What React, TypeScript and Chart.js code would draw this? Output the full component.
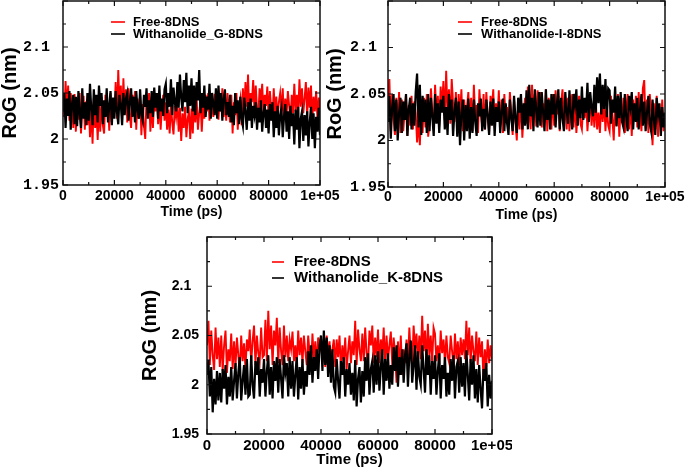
import { useEffect, useRef } from "react"
import { Chart, registerables } from "chart.js"

Chart.register(...registerables)

const SANS = "'Liberation Sans', Arial, sans-serif"
const MONO = "'Liberation Mono', 'Courier New', monospace"

// one sample every 500 ps, 0 .. 100000 ps (201 samples per series)
const TIME_STEP_PS = 500

const X_MAJOR = [0, 20000, 40000, 60000, 80000, 100000]
const X_MINOR = [10000, 30000, 50000, 70000, 90000]
const X_TICK_LABELS = ["0", "20000", "40000", "60000", "80000", "1e+05"]
const Y_MAJOR = [1.95, 2, 2.05, 2.1, 2.15]
const Y_MINOR = [1.975, 2.025, 2.075, 2.125]
const Y_TICK_LABELS = ["1.95", "2", "2.05", "2.1", ""]

// RoG (nm), Free-8DNS vs Withanolide_G-8DNS
const FREE_G = [
  2.045, 2.024, 2.063, 2.031, 2.058, 2.020, 2.050, 2.038, 2.012, 2.049,
  2.008, 2.044, 2.021, 2.050, 2.006, 2.036, 2.047, 2.010, 2.041, 2.015,
  2.040, 2.002, 2.033, 1.995, 2.044, 2.012, 2.030, 1.999, 2.038, 2.008,
  2.046, 2.015, 2.006, 2.048, 2.024, 2.039, 2.009, 2.050, 2.018, 2.043,
  2.028, 2.062, 2.022, 2.075, 2.035, 2.058, 2.020, 2.066, 2.030, 2.054,
  2.018, 2.055, 2.025, 2.012, 2.048, 2.030, 2.052, 2.010, 2.044, 2.022,
  2.049, 2.004, 2.038, 2.015, 2.000, 2.045, 2.026, 2.050, 2.008, 2.040,
  2.012, 2.046, 2.030, 2.050, 2.016, 2.042, 2.010, 2.035, 2.048, 2.020,
  2.040, 2.010, 2.032, 2.006, 2.038, 2.018, 2.005, 2.036, 2.024, 2.040,
  2.008, 2.034, 1.998, 2.028, 2.012, 2.035, 2.002, 2.022, 2.030, 2.000,
  2.033, 2.006, 2.040, 2.018, 2.045, 2.010, 2.028, 2.042, 2.008, 2.036,
  2.022, 2.048, 2.030, 2.050, 2.020, 2.044, 2.036, 2.024, 2.049, 2.028,
  2.052, 2.021, 2.045, 2.030, 2.055, 2.024, 2.040, 2.020, 2.050, 2.034,
  2.018, 2.048, 2.006, 2.040, 2.026, 2.050, 2.010, 2.035, 2.044, 2.015,
  2.055, 2.028, 2.062, 2.035, 2.070, 2.026, 2.050, 2.040, 2.064, 2.030,
  2.058, 2.032, 2.026, 2.055, 2.040, 2.060, 2.028, 2.048, 2.036, 2.057,
  2.024, 2.052, 2.034, 2.020, 2.055, 2.028, 2.046, 2.022, 2.040, 2.050,
  2.030, 2.055, 2.021, 2.044, 2.026, 2.052, 2.036, 2.020, 2.048, 2.028,
  2.060, 2.030, 2.048, 2.026, 2.065, 2.035, 2.055, 2.028, 2.044, 2.062,
  2.024, 2.056, 2.034, 2.058, 2.020, 2.046, 2.030, 2.052, 2.022, 2.045,
  2.032,
]
const WITH_G = [
  2.030, 2.050, 2.012, 2.044, 2.025, 2.052, 2.010, 2.038, 2.048, 2.016,
  2.046, 2.014, 2.052, 2.028, 2.012, 2.055, 2.022, 2.040, 2.015, 2.050,
  2.020, 2.060, 2.032, 2.015, 2.054, 2.026, 2.048, 2.018, 2.058, 2.036,
  2.050, 2.016, 2.042, 2.024, 2.055, 2.018, 2.036, 2.052, 2.015, 2.045,
  2.022, 2.052, 2.030, 2.016, 2.048, 2.038, 2.015, 2.050, 2.026, 2.044,
  2.050, 2.020, 2.040, 2.055, 2.024, 2.046, 2.018, 2.052, 2.032, 2.022,
  2.054, 2.026, 2.020, 2.048, 2.035, 2.055, 2.022, 2.042, 2.028, 2.052,
  2.024, 2.056, 2.034, 2.050, 2.022, 2.058, 2.030, 2.044, 2.025, 2.054,
  2.060, 2.028, 2.050, 2.035, 2.065, 2.026, 2.056, 2.040, 2.030, 2.062,
  2.034, 2.070, 2.045, 2.030, 2.064, 2.040, 2.072, 2.028, 2.058, 2.036,
  2.066, 2.030, 2.058, 2.026, 2.062, 2.042, 2.075, 2.028, 2.050, 2.034,
  2.058, 2.024, 2.046, 2.032, 2.060, 2.022, 2.050, 2.038, 2.026, 2.055,
  2.022, 2.058, 2.030, 2.050, 2.020, 2.044, 2.054, 2.026, 2.040, 2.024,
  2.048, 2.018, 2.036, 2.015, 2.050, 2.028, 2.042, 2.016, 2.046, 2.022,
  2.014, 2.045, 2.030, 2.010, 2.040, 2.020, 2.044, 2.012, 2.036, 2.026,
  2.040, 2.010, 2.034, 2.018, 2.042, 2.008, 2.028, 2.038, 2.012, 2.032,
  2.006, 2.038, 2.020, 2.040, 2.002, 2.030, 2.012, 2.036, 2.004, 2.026,
  2.034, 2.002, 2.024, 2.038, 2.008, 2.030, 2.000, 2.036, 2.014, 2.028,
  1.994, 2.032, 2.010, 2.035, 1.990, 2.022, 2.030, 1.998, 2.026, 2.004,
  2.030, 1.992, 2.018, 2.035, 2.000, 2.028, 1.990, 2.024, 2.008, 2.034,
  2.004,
]

// RoG (nm), Free-8DNS vs Withanolide-I-8DNS
const FREE_I = [
  2.040, 2.066, 2.010, 2.050, 2.024, 2.006, 2.046, 2.018, 2.052, 2.008,
  2.044, 2.010, 2.030, 2.050, 2.005, 2.038, 2.016, 2.048, 2.012, 2.042,
  2.030, 1.998, 2.022, 1.995, 2.034, 2.008, 2.046, 2.014, 2.050, 2.004,
  2.020, 2.056, 2.030, 2.012, 2.060, 2.026, 2.048, 2.015, 2.058, 2.036,
  2.064, 2.022, 2.075, 2.030, 2.055, 2.018, 2.066, 2.040, 2.020, 2.052,
  2.012, 2.050, 2.028, 2.055, 2.010, 2.044, 2.022, 2.036, 2.052, 2.014,
  2.046, 2.010, 2.060, 2.024, 2.038, 2.008, 2.055, 2.030, 2.016, 2.050,
  2.012, 2.052, 2.026, 2.008, 2.048, 2.034, 2.055, 2.014, 2.040, 2.020,
  2.054, 2.016, 2.044, 2.008, 2.050, 2.022, 2.036, 2.012, 2.052, 2.030,
  2.006, 2.044, 2.020, 2.000, 2.040, 2.012, 2.048, 2.003, 2.030, 2.046,
  2.018, 2.058, 2.032, 2.012, 2.060, 2.026, 2.050, 2.015, 2.054, 2.038,
  2.052, 2.014, 2.040, 2.024, 2.055, 2.010, 2.046, 2.030, 2.012, 2.050,
  2.016, 2.054, 2.028, 2.048, 2.010, 2.040, 2.055, 2.020, 2.036, 2.012,
  2.046, 2.010, 2.034, 2.050, 2.014, 2.042, 2.008, 2.030, 2.048, 2.018,
  2.012, 2.040, 2.024, 2.045, 2.010, 2.032, 2.044, 2.016, 2.038, 2.014,
  2.044, 2.012, 2.030, 2.008, 2.042, 2.020, 2.045, 2.010, 2.036, 2.016,
  2.010, 2.048, 2.024, 2.000, 2.044, 2.016, 2.050, 2.004, 2.036, 2.020,
  2.046, 2.008, 2.032, 2.050, 2.012, 2.040, 2.005, 2.044, 2.022, 2.048,
  2.014, 2.052, 2.026, 2.010, 2.056, 2.065, 2.018, 2.044, 2.008, 2.050,
  2.032, 1.995, 2.040, 2.012, 2.048, 2.004, 2.036, 2.016, 2.044, 2.010,
  2.025,
]
const WITH_I = [
  2.020, 2.048, 2.002, 2.036, 2.050, 2.010, 2.044, 2.000, 2.030, 2.046,
  2.008, 2.042, 2.022, 2.050, 2.005, 2.034, 2.046, 2.012, 2.040, 2.016,
  2.052, 2.072, 2.014, 2.060, 2.006, 2.048, 2.020, 2.044, 2.008, 2.050,
  2.010, 2.046, 2.026, 2.005, 2.050, 2.018, 2.040, 2.008, 2.044, 2.030,
  2.048, 2.012, 2.036, 2.006, 2.050, 2.022, 2.044, 2.005, 2.032, 2.046,
  2.004, 2.042, 1.995, 2.030, 2.044, 2.000, 2.038, 2.010, 2.045, 2.002,
  2.036, 2.008, 2.044, 2.020, 2.005, 2.040, 2.026, 2.045, 2.010, 2.034,
  2.012, 2.044, 2.028, 2.006, 2.042, 2.016, 2.045, 2.005, 2.036, 2.020,
  2.042, 2.008, 2.032, 2.045, 2.010, 2.040, 2.018, 2.006, 2.044, 2.024,
  2.010, 2.048, 2.024, 2.008, 2.046, 2.030, 2.050, 2.012, 2.040, 2.016,
  2.054, 2.012, 2.060, 2.026, 2.046, 2.010, 2.055, 2.034, 2.014, 2.052,
  2.016, 2.052, 2.030, 2.010, 2.055, 2.022, 2.044, 2.012, 2.050, 2.028,
  2.050, 2.014, 2.040, 2.055, 2.012, 2.046, 2.024, 2.010, 2.052, 2.032,
  2.018, 2.054, 2.030, 2.012, 2.050, 2.038, 2.055, 2.016, 2.044, 2.024,
  2.058, 2.022, 2.046, 2.030, 2.062, 2.020, 2.052, 2.036, 2.026, 2.060,
  2.030, 2.068, 2.040, 2.072, 2.028, 2.060, 2.034, 2.066, 2.025, 2.056,
  2.054, 2.018, 2.044, 2.030, 2.058, 2.015, 2.048, 2.024, 2.052, 2.020,
  2.014, 2.050, 2.026, 2.010, 2.048, 2.036, 2.052, 2.012, 2.040, 2.020,
  2.046, 2.012, 2.034, 2.050, 2.016, 2.042, 2.010, 2.030, 2.048, 2.018,
  2.010, 2.044, 2.022, 2.006, 2.046, 2.028, 2.040, 2.005, 2.036, 2.014,
  2.030,
]

// RoG (nm), Free-8DNS vs Withanolide_K-8DNS
const FREE_K = [
  2.040, 2.065, 2.020, 2.055, 2.030, 2.015, 2.058, 2.026, 2.048, 2.018,
  2.050, 2.014, 2.040, 2.055, 2.012, 2.036, 2.024, 2.052, 2.016, 2.044,
  2.018, 2.048, 2.030, 2.015, 2.050, 2.024, 2.042, 2.016, 2.046, 2.034,
  2.056, 2.022, 2.044, 2.060, 2.020, 2.050, 2.032, 2.024, 2.058, 2.028,
  2.030, 2.066, 2.024, 2.075, 2.036, 2.060, 2.020, 2.055, 2.040, 2.068,
  2.022, 2.058, 2.034, 2.020, 2.060, 2.028, 2.050, 2.024, 2.046, 2.036,
  2.054, 2.024, 2.040, 2.020, 2.055, 2.030, 2.048, 2.022, 2.050, 2.034,
  2.020, 2.050, 2.032, 2.018, 2.052, 2.026, 2.044, 2.020, 2.048, 2.036,
  2.048, 2.022, 2.040, 2.018, 2.050, 2.030, 2.044, 2.020, 2.036, 2.046,
  2.018, 2.046, 2.028, 2.050, 2.015, 2.040, 2.024, 2.048, 2.016, 2.034,
  2.050, 2.022, 2.044, 2.030, 2.065, 2.020, 2.056, 2.036, 2.024, 2.052,
  2.024, 2.058, 2.032, 2.020, 2.055, 2.040, 2.060, 2.022, 2.048, 2.028,
  2.056, 2.022, 2.046, 2.030, 2.058, 2.020, 2.050, 2.026, 2.040, 2.054,
  2.020, 2.048, 2.030, 2.002, 2.044, 2.016, 2.050, 2.010, 2.036, 2.022,
  2.046, 2.022, 2.058, 2.030, 2.020, 2.060, 2.036, 2.052, 2.024, 2.050,
  2.026, 2.070, 2.034, 2.055, 2.020, 2.062, 2.030, 2.050, 2.022, 2.058,
  2.052, 2.024, 2.040, 2.020, 2.055, 2.032, 2.046, 2.022, 2.050, 2.028,
  2.022, 2.050, 2.034, 2.018, 2.052, 2.026, 2.044, 2.020, 2.048, 2.030,
  2.046, 2.026, 2.065, 2.030, 2.058, 2.022, 2.050, 2.034, 2.024, 2.054,
  2.020, 2.048, 2.028, 2.044, 2.005, 2.036, 2.018, 2.046, 2.022, 2.040,
  2.026,
]
const WITH_K = [
  2.010, 2.025, 1.988, 2.018, 1.972, 2.006, 1.980, 2.014, 1.984, 2.012,
  1.982, 2.016, 1.996, 2.020, 1.980, 2.008, 1.988, 2.018, 1.984, 2.004,
  2.022, 1.986, 2.012, 2.028, 1.984, 2.004, 2.020, 1.990, 2.026, 1.988,
  1.990, 2.030, 2.000, 1.986, 2.024, 2.010, 2.028, 1.988, 2.016, 2.002,
  2.026, 1.988, 2.014, 2.030, 1.990, 2.018, 1.986, 2.024, 2.004, 2.028,
  1.992, 2.026, 2.006, 1.986, 2.030, 2.012, 2.022, 1.988, 2.028, 1.996,
  2.024, 1.988, 2.010, 2.028, 1.985, 2.018, 1.996, 2.026, 1.990, 2.014,
  1.998, 2.034, 2.010, 2.040, 2.002, 2.028, 2.014, 2.036, 2.006, 2.040,
  2.050, 2.014, 2.055, 2.020, 2.048, 2.008, 2.040, 2.002, 2.036, 1.998,
  1.992, 2.026, 2.004, 1.986, 2.024, 2.010, 2.028, 1.988, 2.016, 2.000,
  2.022, 1.990, 2.012, 1.984, 2.025, 1.978, 2.006, 2.018, 1.982, 2.014,
  1.988, 2.028, 2.004, 2.032, 1.990, 2.016, 2.024, 1.992, 2.030, 2.000,
  2.034, 1.994, 2.018, 2.036, 1.990, 2.026, 2.004, 2.032, 1.996, 2.020,
  2.000, 2.038, 2.014, 2.040, 1.998, 2.028, 2.010, 2.036, 2.002, 2.030,
  2.042, 1.998, 2.030, 2.045, 2.002, 2.020, 2.040, 1.995, 2.034, 2.008,
  2.000, 2.040, 2.016, 1.992, 2.036, 2.010, 2.030, 1.990, 2.024, 2.006,
  2.030, 1.990, 2.014, 2.032, 1.986, 2.020, 2.006, 2.028, 1.988, 2.012,
  1.990, 2.026, 2.004, 2.030, 1.986, 2.018, 2.024, 1.992, 2.028, 1.998,
  2.022, 1.988, 2.035, 2.010, 1.984, 2.026, 2.000, 2.030, 1.986, 2.016,
  1.982, 2.020, 1.996, 1.976, 2.016, 2.004, 2.022, 1.978, 2.010, 1.986,
  2.004,
]

// boxed frame with inward ticks on all four sides
const framePlugin = {
  id: "frame",
  afterDatasetsDraw(chart: any) {
    const { ctx, chartArea: a, scales } = chart
    ctx.save()
    ctx.strokeStyle = "#111"
    ctx.lineWidth = 1.5
    ctx.strokeRect(a.left, a.top, a.right - a.left, a.bottom - a.top)
    ctx.lineWidth = 1.2
    ctx.beginPath()
    const xTick = (v: number, len: number) => {
      const px = scales.x.getPixelForValue(v)
      ctx.moveTo(px, a.bottom)
      ctx.lineTo(px, a.bottom - len)
      ctx.moveTo(px, a.top)
      ctx.lineTo(px, a.top + len)
    }
    const yTick = (v: number, len: number) => {
      const py = scales.y.getPixelForValue(v)
      ctx.moveTo(a.left, py)
      ctx.lineTo(a.left + len, py)
      ctx.moveTo(a.right, py)
      ctx.lineTo(a.right - len, py)
    }
    X_MAJOR.forEach((v) => xTick(v, 5))
    X_MINOR.forEach((v) => xTick(v, 3))
    Y_MAJOR.forEach((v) => yTick(v, 5))
    Y_MINOR.forEach((v) => yTick(v, 3))
    ctx.stroke()
    ctx.restore()
  },
}

// short coloured line + name, drawn inside the plot
const lineLegendPlugin = {
  id: "lineLegend",
  afterDraw(chart: any, _args: any, opts: any) {
    const { ctx, chartArea } = chart
    ctx.save()
    ctx.font = `bold ${opts.size}px ${SANS}`
    ctx.textBaseline = "middle"
    ctx.textAlign = "left"
    opts.items.forEach((item: any, i: number) => {
      const x = chartArea.left + opts.dx
      const y = chartArea.top + opts.dy + i * opts.gap
      ctx.strokeStyle = item.color
      ctx.lineWidth = 1.6
      ctx.beginPath()
      ctx.moveTo(x, y)
      ctx.lineTo(x + opts.lineLen, y)
      ctx.stroke()
      ctx.fillStyle = "#000"
      ctx.fillText(item.text, x + opts.textDx, y)
    })
    ctx.restore()
  },
}

type PanelProps = {
  free: number[]
  bound: number[]
  boundLabel: string
  box: { left: number; top: number; width: number; height: number }
  padTop: number
  padRight: number
  yWidth: number
  xHeight: number
  yTickFont: any
  yTickPad: number
  tenthPad: string
  xTickFont: any
  xTickPad: number
  xTitleSize: number
  xTitlePad: number
  legend: { dx: number; dy: number; gap: number; lineLen: number; textDx: number; size: number }
}

function RogPanel(p: PanelProps) {
  const chartRef = useRef<HTMLCanvasElement>(null)

  useEffect(() => {
    if (!chartRef.current) return
    const toPoints = (vals: number[]) => vals.map((y, i) => ({ x: i * TIME_STEP_PS, y }))

    const chart = new Chart(chartRef.current, {
      type: "line",
      data: {
        datasets: [
          {
            label: p.boundLabel,
            data: toPoints(p.bound),
            borderColor: "#000000",
            borderWidth: 2.2,
            pointRadius: 0,
            tension: 0,
            order: 0,
          },
          {
            label: "Free-8DNS",
            data: toPoints(p.free),
            borderColor: "#ff0000",
            borderWidth: 1.9,
            pointRadius: 0,
            tension: 0,
            order: 1,
          },
        ],
      },
      options: {
        animation: false,
        responsive: true,
        maintainAspectRatio: false,
        events: [],
        layout: { padding: { top: p.padTop, right: p.padRight, left: 0, bottom: 0 } },
        plugins: {
          legend: { display: false },
          tooltip: { enabled: false },
          lineLegend: {
            ...p.legend,
            items: [
              { text: "Free-8DNS", color: "#ff0000" },
              { text: p.boundLabel, color: "#000000" },
            ],
          },
        } as any,
        scales: {
          x: {
            type: "linear",
            min: 0,
            max: 100000,
            afterBuildTicks: (s: any) => {
              s.ticks = X_MAJOR.map((v) => ({ value: v }))
            },
            afterFit: (s: any) => {
              s.height = p.xHeight
              s.paddingLeft = 0
              s.paddingRight = 0
            },
            grid: { display: false, drawTicks: false },
            border: { display: false },
            ticks: {
              autoSkip: false,
              maxRotation: 0,
              padding: p.xTickPad,
              color: "#000",
              font: p.xTickFont,
              callback: (v: any) => X_TICK_LABELS[X_MAJOR.indexOf(v)],
            },
            title: {
              display: true,
              text: "Time (ps)",
              color: "#000",
              font: { family: SANS, size: p.xTitleSize, weight: "bold", lineHeight: 1 },
              padding: { top: 0, bottom: p.xTitlePad },
            },
          },
          y: {
            type: "linear",
            min: 1.95,
            max: 2.15,
            afterBuildTicks: (s: any) => {
              s.ticks = Y_MAJOR.map((v) => ({ value: v }))
            },
            afterFit: (s: any) => {
              s.width = p.yWidth
              s.paddingTop = 0
              s.paddingBottom = 0
            },
            grid: { display: false, drawTicks: false },
            border: { display: false },
            ticks: {
              autoSkip: false,
              padding: p.yTickPad,
              color: "#000",
              font: p.yTickFont,
              callback: (v: any) => {
                const label = Y_TICK_LABELS[Y_MAJOR.indexOf(v)]
                return label === "2.1" ? label + p.tenthPad : label
              },
            },
            title: {
              display: true,
              text: "RoG (nm)",
              color: "#000",
              font: { family: SANS, size: 20, weight: "bold", lineHeight: 1 },
              padding: { top: 0, bottom: 0 },
            },
          },
        },
      },
      plugins: [framePlugin, lineLegendPlugin],
    } as any)

    return () => {
      chart.destroy()
    }
  }, [])

  return (
    <div style={{ position: "absolute", ...p.box }}>
      <canvas ref={chartRef} />
    </div>
  )
}

export default function App() {
  const topY = { family: MONO, size: 15, weight: "bold" }
  const topX = { family: SANS, size: 14, weight: "bold" }
  const botTicks = { family: SANS, size: 14, weight: "bold" }

  return (
    <div style={{ position: "absolute", left: 0, top: 0, width: 685, height: 469, background: "#fff", overflow: "hidden" }}>
      <RogPanel
        free={FREE_G}
        bound={WITH_G}
        boundLabel="Withanolide_G-8DNS"
        box={{ left: 0, top: 0, width: 340, height: 225 }}
        padTop={1}
        padRight={20}
        yWidth={63}
        xHeight={40}
        yTickFont={topY}
        yTickPad={4}
        tenthPad=" "
        xTickFont={topX}
        xTickPad={3}
        xTitleSize={14}
        xTitlePad={6}
        legend={{ dx: 48, dy: 21, gap: 12, lineLen: 14, textDx: 22, size: 13 }}
      />
      <RogPanel
        free={FREE_I}
        bound={WITH_I}
        boundLabel="Withanolide-I-8DNS"
        box={{ left: 325, top: 0, width: 360, height: 225 }}
        padTop={1}
        padRight={20}
        yWidth={63}
        xHeight={38}
        yTickFont={topY}
        yTickPad={2}
        tenthPad=" "
        xTickFont={topX}
        xTickPad={2}
        xTitleSize={14}
        xTitlePad={3}
        legend={{ dx: 70, dy: 21, gap: 12, lineLen: 14, textDx: 23, size: 13 }}
      />
      <RogPanel
        free={FREE_K}
        bound={WITH_K}
        boundLabel="Withanolide_K-8DNS"
        box={{ left: 140, top: 229, width: 372, height: 240 }}
        padTop={8}
        padRight={20}
        yWidth={67}
        xHeight={35}
        yTickFont={botTicks}
        yTickPad={8}
        tenthPad="  "
        xTickFont={{ ...botTicks, size: 15 }}
        xTickPad={3}
        xTitleSize={15}
        xTitlePad={2}
        legend={{ dx: 65, dy: 25, gap: 16, lineLen: 12, textDx: 22, size: 15 }}
      />
    </div>
  )
}
